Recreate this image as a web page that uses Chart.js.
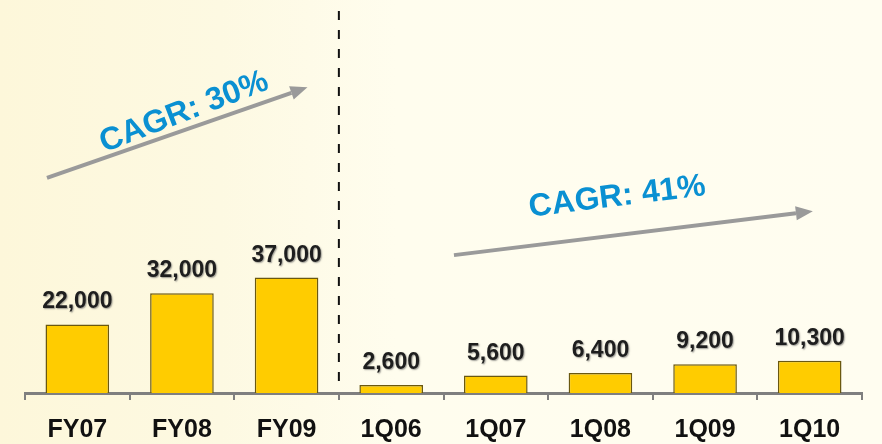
<!DOCTYPE html>
<html>
<head>
<meta charset="utf-8">
<script src="https://cdn.jsdelivr.net/npm/chart.js@4/dist/chart.umd.min.js"></script>
<style>
  html, body { margin: 0; padding: 0; }
  body {
    width: 882px; height: 444px; overflow: hidden;
    background: linear-gradient(90deg, #fdf7da 0%, #fdf9e2 25%, #fffdee 45%, #fffdf0 100%);
  }
  #wrap { position: relative; width: 882px; height: 444px; overflow: hidden; }
</style>
</head>
<body>
<div id="wrap"><canvas id="revenueChart" width="882" height="460"></canvas></div>
<script>
// periods and values
const periods = ["FY07", "FY08", "FY09", "1Q06", "1Q07", "1Q08", "1Q09", "1Q10"];
const revenue = [22000, 32000, 37000, 2600, 5600, 6400, 9200, 10300];

// annotations: [category position, value] pairs
const cagrNotes = [
  { text: "CAGR: 30%", at: [1.02, 90000], angle: -21, from: [-0.29, 69000], to: [2.2, 98000] },
  { text: "CAGR: 41%", at: [5.16, 62800], angle: -7, from: [3.6, 44200], to: [7.03, 58300] }
];

const barLabels = {
  id: 'barLabels',
  afterDatasetsDraw(chart) {
    const ctx = chart.ctx;
    const meta = chart.getDatasetMeta(0);
    ctx.save();
    ctx.font = "bold 23px 'Liberation Sans', Arial, sans-serif";
    ctx.textAlign = 'center';
    ctx.textBaseline = 'alphabetic';
    ctx.fillStyle = '#1e1e1e';
    ctx.shadowColor = 'rgba(90,90,90,0.6)';
    ctx.shadowOffsetX = 1;
    ctx.shadowOffsetY = 1;
    ctx.shadowBlur = 1.5;
    meta.data.forEach((bar, i) => {
      ctx.fillText(revenue[i].toLocaleString('en-US'), bar.x, bar.y - 16);
    });
    ctx.restore();
  }
};

const cagrMarks = {
  id: 'cagrMarks',
  afterDatasetsDraw(chart) {
    const ctx = chart.ctx;
    const xs = chart.scales.x, ys = chart.scales.y;
    const px = p => [xs.getPixelForValue(p[0]), ys.getPixelForValue(p[1])];

    // dashed divider between annual and quarterly bars
    const divX = (xs.getPixelForValue(2) + xs.getPixelForValue(3)) / 2;
    ctx.save();
    ctx.strokeStyle = '#111';
    ctx.lineWidth = 2;
    ctx.setLineDash([9, 10]);
    ctx.beginPath();
    ctx.moveTo(divX, 11);
    ctx.lineTo(divX, ys.getPixelForValue(0) - 6);
    ctx.stroke();
    ctx.restore();

    cagrNotes.forEach(n => {
      const [x1, y1] = px(n.from);
      const [x2, y2] = px(n.to);
      const ang = Math.atan2(y2 - y1, x2 - x1);
      const head = 17, half = 7;
      ctx.save();
      ctx.strokeStyle = '#9a9a9a';
      ctx.fillStyle = '#9a9a9a';
      ctx.lineWidth = 4;
      ctx.beginPath();
      ctx.moveTo(x1, y1);
      ctx.lineTo(x2 - head * Math.cos(ang), y2 - head * Math.sin(ang));
      ctx.stroke();
      ctx.translate(x2, y2);
      ctx.rotate(ang);
      ctx.beginPath();
      ctx.moveTo(0, 0);
      ctx.lineTo(-head, -half);
      ctx.lineTo(-head, half);
      ctx.closePath();
      ctx.fill();
      ctx.restore();

      const [tx, ty] = px(n.at);
      ctx.save();
      ctx.translate(tx, ty);
      ctx.rotate(n.angle * Math.PI / 180);
      ctx.font = "bold 32px 'Liberation Sans', Arial, sans-serif";
      ctx.fillStyle = '#0a90d2';
      ctx.textAlign = 'center';
      ctx.textBaseline = 'middle';
      ctx.fillText(n.text, 0, 0);
      ctx.restore();
    });
  }
};

new Chart(document.getElementById('revenueChart').getContext('2d'), {
  type: 'bar',
  data: {
    labels: periods,
    datasets: [{
      data: revenue,
      backgroundColor: '#ffcc00',
      borderColor: '#6a5810',
      borderWidth: 1.5,
      borderSkipped: 'bottom',
      categoryPercentage: 0.8,
      barPercentage: 0.76
    }]
  },
  options: {
    responsive: false,
    animation: false,
    events: [],
    layout: { padding: { left: 25, right: 20, top: 0, bottom: 0 } },
    plugins: { legend: { display: false }, tooltip: { enabled: false } },
    scales: {
      x: {
        offset: true,
        grid: {
          offset: true,
          drawOnChartArea: false,
          color: '#7f7f7f',
          lineWidth: 2,
          tickLength: 7
        },
        border: { display: true, color: '#7f7f7f', width: 3 },
        ticks: {
          color: '#111',
          padding: 15,
          font: { family: "'Liberation Sans', Arial, sans-serif", size: 25, weight: 'bold' }
        }
      },
      y: {
        display: false,
        min: 0,
        max: 126000
      }
    }
  },
  plugins: [barLabels, cagrMarks]
});
</script>
</body>
</html>
